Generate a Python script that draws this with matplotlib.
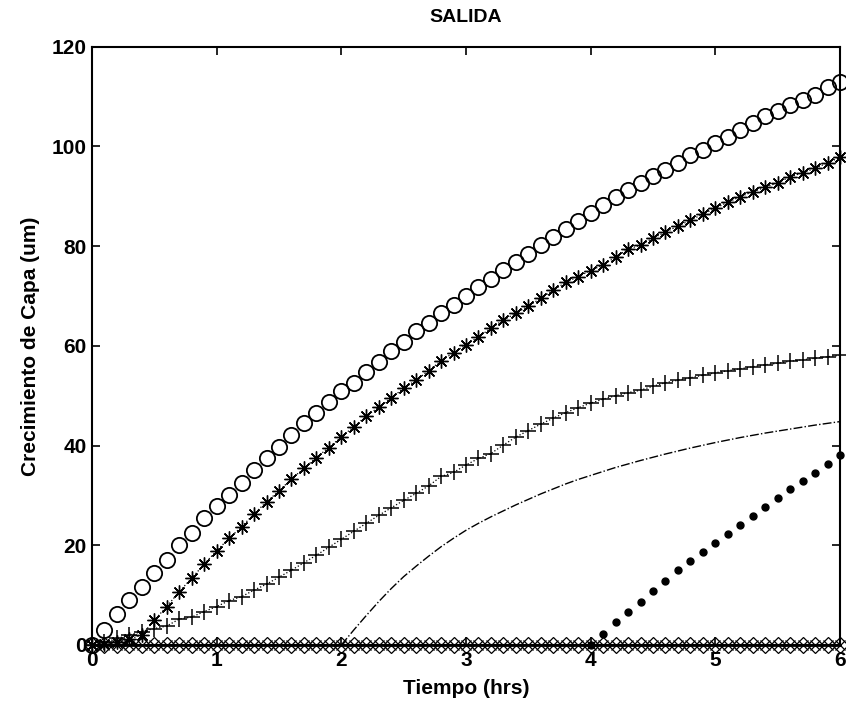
import numpy as np
import matplotlib
matplotlib.use('Agg')
import matplotlib.pyplot as plt

plt.rcParams['font.family'] = ['Liberation Sans', 'DejaVu Sans']

# time grid (hrs), one sample every 0.1 hr
TIME = np.round(np.arange(0, 61) * 0.1, 1)

# circles: top curve
CIRCLES = [0.0, 3.1, 6.2, 9.0, 11.7, 14.5, 17.0, 20.1, 22.4, 25.4,
           27.8, 30.1, 32.4, 35.1, 37.4, 39.8, 42.1, 44.5, 46.5, 48.8,
           51.0, 52.6, 54.8, 56.8, 59.0, 60.8, 63.0, 64.6, 66.5, 68.2,
           69.9, 71.7, 73.5, 75.2, 76.9, 78.5, 80.2, 81.8, 83.4, 85.0,
           86.6, 88.3, 89.9, 91.3, 92.7, 94.1, 95.3, 96.6, 98.3, 99.3,
           100.6, 101.9, 103.3, 104.6, 106.0, 107.0, 108.3, 109.3, 110.3, 111.9,
           113.0]

# asterisks
STARS = [0.0, 0.2, 0.6, 1.2, 2.0, 5.0, 7.7, 10.7, 13.4, 16.2,
         18.9, 21.4, 23.7, 26.3, 28.7, 30.9, 33.3, 35.4, 37.6, 39.6,
         41.7, 43.8, 45.9, 47.7, 49.5, 51.5, 53.1, 55.0, 57.0, 58.6,
         60.2, 61.8, 63.5, 65.2, 66.5, 68.0, 69.5, 71.2, 72.7, 73.9,
         75.1, 76.2, 77.8, 79.4, 80.2, 81.6, 82.8, 84.0, 85.2, 86.4,
         87.6, 88.8, 89.9, 90.9, 91.8, 92.7, 93.9, 94.7, 95.6, 96.7,
         97.8]

# plus signs
PLUSES = [0.0, 0.5, 1.3, 2.0, 2.7, 3.3, 3.8, 5.2, 5.6, 6.7,
          7.7, 8.9, 9.7, 11.0, 12.2, 13.6, 15.0, 16.5, 18.0, 19.6,
          21.2, 22.8, 24.4, 26.0, 27.5, 29.0, 30.4, 31.9, 33.8, 34.6,
          36.1, 37.4, 38.4, 40.1, 41.7, 43.0, 44.3, 45.5, 46.6, 47.6,
          48.5, 49.3, 50.0, 50.6, 51.1, 51.9, 52.6, 53.1, 53.6, 54.1,
          54.6, 55.0, 55.4, 55.8, 56.2, 56.5, 56.9, 57.2, 57.5, 57.8,
          58.1]

# dash-dot curve (starts growing at 2 hrs)
DASHDOT_T = [2.0, 2.1, 2.2, 2.3, 2.4, 2.5, 2.6, 2.7, 2.8, 2.9,
             3.0, 3.1, 3.2, 3.3, 3.4, 3.5, 3.6, 3.7, 3.8, 3.9,
             4.0, 4.2, 4.4, 4.6, 4.8, 5.0, 5.2, 5.4, 5.6, 5.8, 6.0]
DASHDOT = [0.0, 3.0, 5.9, 8.7, 11.3, 13.7, 15.8, 17.8, 19.7, 21.4,
           23.0, 24.4, 25.7, 26.9, 28.1, 29.2, 30.3, 31.3, 32.3, 33.2,
           34.0, 35.6, 37.0, 38.3, 39.5, 40.6, 41.6, 42.5, 43.3, 44.1, 44.8]

# filled dots (start growing at 4 hrs)
DOTS_T = [4.0, 4.1, 4.2, 4.3, 4.4, 4.5, 4.6, 4.7, 4.8, 4.9, 5.0,
          5.1, 5.2, 5.3, 5.4, 5.5, 5.6, 5.7, 5.8, 5.9, 6.0]
DOTS = [0.0, 2.2, 4.6, 6.7, 8.7, 10.8, 12.9, 15.0, 16.8, 18.6, 20.4,
        22.2, 24.0, 25.8, 27.6, 29.4, 31.2, 32.8, 34.5, 36.3, 38.2]

# series that stay at zero
ZERO = [0.0] * len(TIME)

X_TICKS = [0, 1, 2, 3, 4, 5, 6]
Y_TICKS = [0, 20, 40, 60, 80, 100, 120]

fig = plt.figure(figsize=(8.46, 7.09), dpi=100)
ax = fig.add_axes([0.1087, 0.0903, 0.8842, 0.8439])

# zero-level series: solid line with diamonds and crosses
ax.plot(TIME, ZERO, '-', color='black', lw=2.0, zorder=2)
ax.plot(TIME, ZERO, linestyle='none', marker='D', ms=8.5, mfc='none',
        mec='black', mew=0.9, zorder=3)
ax.plot(TIME, ZERO, linestyle='none', marker='x', ms=7.5, mec='black', mew=0.9, zorder=3)

ax.plot(TIME, CIRCLES, linestyle='none', marker='o', ms=11, mfc='none',
        mec='black', mew=1.3)
ax.plot(TIME, STARS, ':', color='black', lw=0.9, marker=(8, 2, 0), ms=10,
        mec='black', mew=1.0)
ax.plot(TIME, PLUSES, ':', color='black', lw=0.9, marker='+', ms=11,
        mec='black', mew=1.1)
ax.plot(DASHDOT_T, DASHDOT, '-.', color='black', lw=1.0)
ax.plot(DOTS_T, DOTS, linestyle='none', marker='o', ms=5, mfc='black', mec='black')

ax.set_xlim(0, 6)
ax.set_ylim(0, 120)
ax.set_xticks(X_TICKS)
ax.set_yticks(Y_TICKS)
ax.tick_params(direction='in', length=6, width=1.2, top=True, right=True,
               labelsize=15, pad=4)
for lbl in ax.get_xticklabels() + ax.get_yticklabels():
    lbl.set_fontweight('bold')
for sp in ax.spines.values():
    sp.set_linewidth(1.5)
for ln in ax.lines:
    ln.set_clip_on(False)

ax.set_xlabel('Tiempo (hrs)', fontsize=15, fontweight='bold', labelpad=7)
ax.set_ylabel('Crecimiento de Capa (um)', fontsize=15, fontweight='bold', labelpad=8)
ax.set_title('SALIDA', fontsize=14, fontweight='bold', pad=18)

fig.savefig('out.png', dpi=100)
